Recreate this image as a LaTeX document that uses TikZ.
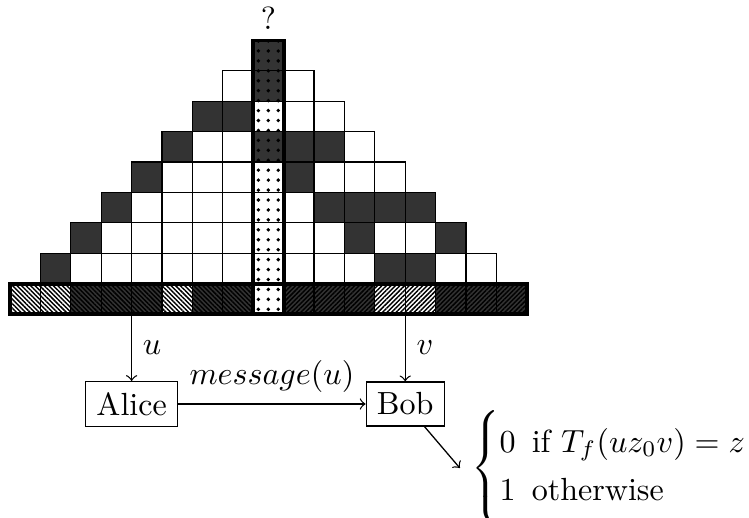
\documentclass[tikz,border=0pt]{standalone}
\usepackage{amsmath}
\usepackage{xcolor}
\usetikzlibrary{patterns.meta}
\definecolor{celldark}{HTML}{333333}
\definecolor{cellink}{HTML}{000000}

\tikzset{
  cellline/.style={cellink, line width=0.4pt},
  frameline/.style={cellink, line width=1.2pt},
  lefthatch/.style={pattern={Lines[angle=-45,distance=1pt,line width=0.45pt]}},
  righthatch/.style={pattern={Lines[angle=45,distance=1pt,line width=0.45pt]}},
  dotcell/.style={pattern={Dots[distance=3.1pt,radius=0.6pt]}},
  party/.style={draw, cellink, line width=0.4pt}
}

\begin{document}
\begin{tikzpicture}[
  x=0.3333cm,
  y=0.3333cm,
  every node/.style={font=\normalsize}
]
  \useasboundingbox (-0.33,-6.71) rectangle (24.31,10.33);

  % dark cells of the triangle
  \foreach \col/\row in {1/1,12/1,13/1, 2/2,11/2,14/2,
      3/3,10/3,11/3,12/3,13/3, 4/4,9/4, 5/5,9/5,10/5, 6/6,7/6}
    \fill[celldark] (\col,\row) rectangle ++(1,1);

  \foreach \row in {1,...,7} {
    \pgfmathtruncatemacro{\last}{16-\row}
    \foreach \col in {\row,...,\last}
      \draw[cellline] (\col,\row) rectangle ++(1,1);
  }

  % input row
  \foreach \col in {2,3,4,6,7,9,10,11,14,15,16}
    \fill[celldark] (\col,0) rectangle ++(1,1);
  \fill[lefthatch] (0,0) rectangle (8,1);
  \fill[righthatch] (9,0) rectangle (17,1);
  \foreach \col in {0,...,16}
    \draw[cellline] (\col,0) rectangle ++(1,1);

  % middle column
  \foreach \row in {5,7,8}
    \fill[celldark] (8,\row) rectangle ++(1,1);
  \fill[white] (8,0) rectangle (9,1);
  \fill[dotcell] (8,0) rectangle (9,9);
  \foreach \row in {0,...,8}
    \draw[cellline] (8,\row) rectangle ++(1,1);

  \draw[frameline] (0,0) rectangle (17,1);
  \draw[frameline] (8,0) rectangle (9,9);

  \node (query) at (8.5,9) [above] {?};

  \coordinate (uin) at (4,0);
  \coordinate (vin) at (13,0);
  \node[party] (alice) at (4,-2.96) {Alice};
  \node[party] (bob) at (13,-2.96) {Bob};
  \node[anchor=west] (cases) at (14.8,-5.07)
    {$\renewcommand{\arraystretch}{1.25}\left\{\begin{array}{@{}l@{\hspace{5pt}}l@{}}
      0 & \text{if } T_f(uz_0v)=z\rule{0pt}{12pt}\\
      1 & \text{otherwise}\rule[-7pt]{0pt}{7pt}\end{array}\right.$};

  \draw[->] (uin) -- node[right] {$u$} (alice);
  \draw[->] (vin) -- node[right] {$v$} (bob);
  \draw[->] (alice) -- node[above] {$message(u)$} (bob);
  \draw[->] (bob) -- (cases.west);
\end{tikzpicture}
\end{document}
